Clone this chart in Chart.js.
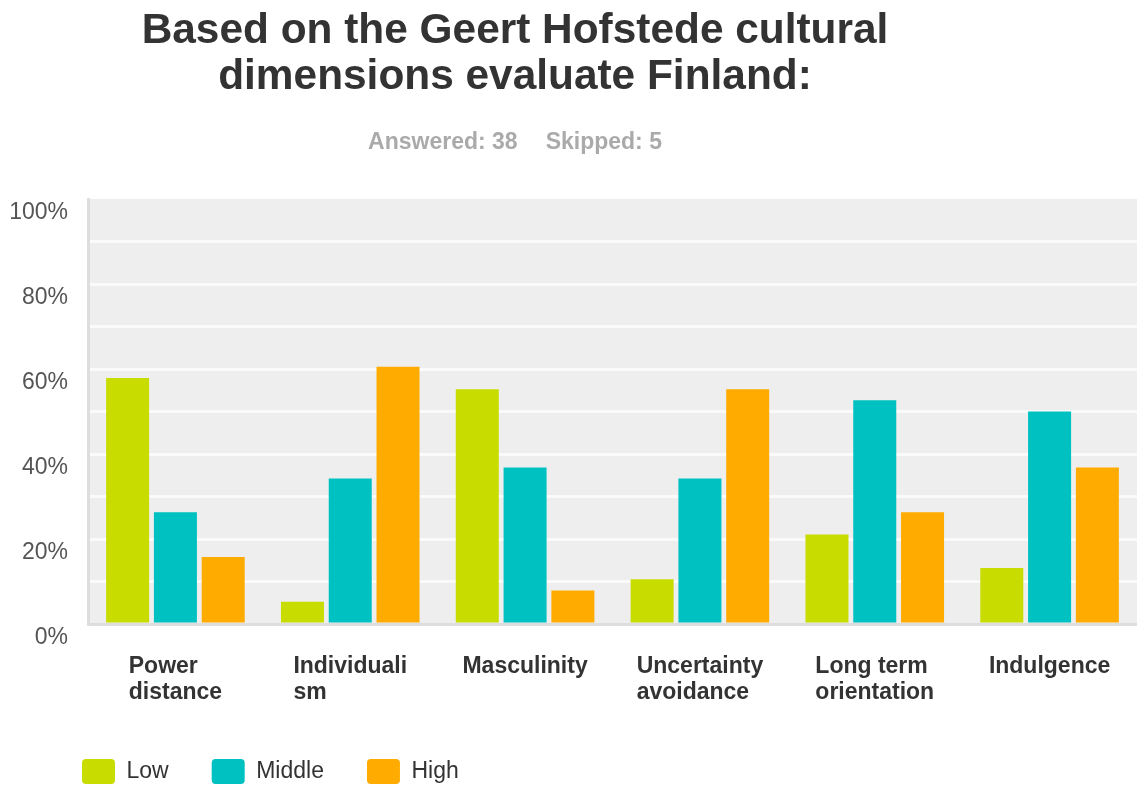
<!DOCTYPE html>
<html>
<head>
<meta charset="utf-8">
<script src="https://cdn.jsdelivr.net/npm/chart.js@4.4.1/dist/chart.umd.min.js"></script>
<style>
  html, body { margin: 0; padding: 0; background: #fff; }
  #wrap { position: relative; width: 1137px; height: 785px; }
  #title {
    position: absolute; left: 0; top: 6px; width: 1030px;
    text-align: center; color: #333;
    font: bold 42.4px "Liberation Sans", Arial, sans-serif; line-height: 46px;
  }
  #sub {
    position: absolute; left: 0; top: 128px; width: 1030px;
    text-align: center; color: #aaa;
    font: bold 23px "Liberation Sans", Arial, sans-serif; line-height: 26px;
  }
  #sub span + span { margin-left: 28px; }
  canvas { position: absolute; left: 0; top: 0; }
</style>
</head>
<body>
<div id="wrap">
  <canvas id="hofstede" width="1137" height="785"></canvas>
  <div id="title">Based on the Geert Hofstede cultural<br>dimensions evaluate Finland:</div>
  <div id="sub"><span>Answered: 38</span><span>Skipped: 5</span></div>
</div>
<script>
const categories = [
  ['Power', 'distance'],
  ['Individuali', 'sm'],
  ['Masculinity'],
  ['Uncertainty', 'avoidance'],
  ['Long term', 'orientation'],
  ['Indulgence']
];
const low = [57.89, 5.26, 55.26, 10.53, 21.05, 13.16];
const middle = [26.32, 34.21, 36.84, 34.21, 52.63, 50.00];
const high = [15.79, 60.53, 7.89, 55.26, 26.32, 36.84];
const yTickLabels = [0, 20, 40, 60, 80, 100];

const FONT = '"Liberation Sans", Arial, sans-serif';

// grey panel behind the bars
const plotBackground = {
  id: 'plotBackground',
  beforeDraw(chart) {
    const { ctx, chartArea: a } = chart;
    ctx.save();
    ctx.fillStyle = '#eeeeee';
    ctx.fillRect(a.left, a.top, a.right - a.left, a.bottom - a.top);
    ctx.restore();
  }
};

// nudge the legend row in from the left edge and down a little
const legendOffset = {
  id: 'legendOffset',
  afterLayout(chart) {
    const lg = chart.legend;
    if (!lg) return;
    lg.left += 39;
    lg.right += 39;
    lg.top += 9;
    lg.bottom += 9;
  }
};

// category names: block centred under the group, lines left aligned
const categoryLabels = {
  id: 'categoryLabels',
  afterDraw(chart) {
    const { ctx, chartArea: a } = chart;
    const xs = chart.scales.x;
    ctx.save();
    ctx.font = 'bold 23px ' + FONT;
    ctx.fillStyle = '#333';
    ctx.textAlign = 'left';
    ctx.textBaseline = 'alphabetic';
    categories.forEach((lines, i) => {
      const cx = xs.getPixelForValue(i);
      const w = Math.max(...lines.map(l => ctx.measureText(l).width));
      lines.forEach((l, j) => {
        ctx.fillText(l, cx - w / 2, a.bottom + 49 + j * 26);
      });
    });
    ctx.restore();
  }
};

new Chart(document.getElementById('hofstede'), {
  type: 'bar',
  data: {
    labels: categories.map(c => c.join(' ')),
    datasets: [
      { label: 'Low', data: low, backgroundColor: '#c8dc00' },
      { label: 'Middle', data: middle, backgroundColor: '#00c1c1' },
      { label: 'High', data: high, backgroundColor: '#ffab00' }
    ]
  },
  options: {
    responsive: false,
    animation: false,
    layout: { padding: { top: 199, left: 0, right: 0, bottom: 0 } },
    datasets: {
      bar: { categoryPercentage: 0.82, barPercentage: 0.9, borderWidth: 0 }
    },
    plugins: {
      tooltip: { enabled: false },
      legend: {
        position: 'bottom',
        align: 'start',
        labels: {
          boxWidth: 33,
          boxHeight: 25,
          padding: 43,
          color: '#333',
          font: { family: FONT, size: 23 },
          useBorderRadius: true,
          borderRadius: 4
        }
      }
    },
    scales: {
      x: {
        grid: { display: false },
        border: { color: '#dddddd', width: 3 },
        ticks: { display: false },
        afterFit(scale) { scale.height = 83; }
      },
      y: {
        min: 0,
        max: 100,
        afterFit(scale) { scale.width = 88; },
        ticks: {
          stepSize: 10,
          autoSkip: false,
          padding: 20,
          labelOffset: 14,
          color: '#555',
          font: { family: FONT, size: 23 },
          callback: (v) => yTickLabels.includes(v) ? v + '%' : ''
        },
        grid: {
          drawTicks: false,
          lineWidth: 3,
          color: (c) => (c.tick && (c.tick.value === 100 || c.tick.value === 0)) ? 'rgba(0,0,0,0)' : '#fafafa'
        },
        border: { color: '#dddddd', width: 3 }
      }
    }
  },
  plugins: [plotBackground, legendOffset, categoryLabels]
});
</script>
</body>
</html>
